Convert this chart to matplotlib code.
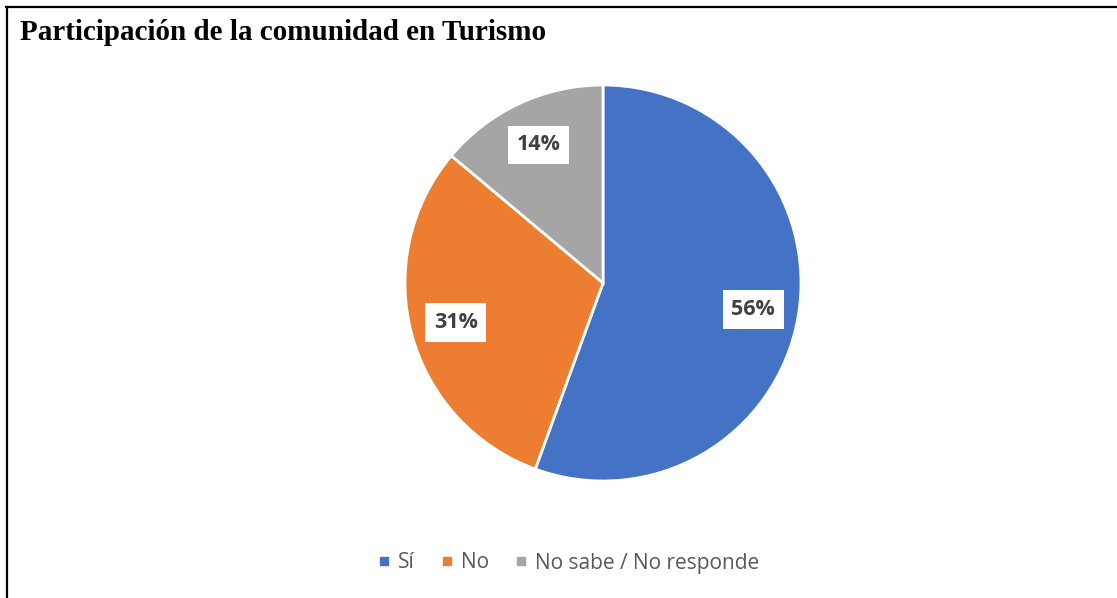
import matplotlib.pyplot as plt
from matplotlib.lines import Line2D

categorias = ["Sí", "No", "No sabe / No responde"]
valores = [40, 22, 10]
colores = ["#4472C4", "#ED7D31", "#A5A5A5"]
titulo = "Participación de la comunidad en Turismo"

W, H = 1117, 598
fig = plt.figure(figsize=(W / 100, H / 100), dpi=100)

# borde superior e izquierdo del marco
fig.add_artist(Line2D([6 / W, 1], [1 - 7 / H, 1 - 7 / H], color="black", lw=1.6))
fig.add_artist(Line2D([7 / W, 7 / W], [0, 1 - 7 / H], color="black", lw=1.6))

fig.text(20 / W, 1 - 32 / H, titulo, family="Liberation Serif", fontweight="bold",
         fontsize=21, va="center", ha="left", color="black")

# Crear el gráfico de sectores
cx, cy, r = 603, H - 283, 198
ax = fig.add_axes([(cx - r) / W, (cy - r) / H, 2 * r / W, 2 * r / H])
wedges, textos, pcts = ax.pie(
    valores,
    colors=colores,
    startangle=90,
    counterclock=False,
    autopct="%1.0f%%",
    pctdistance=0.77,
    radius=1,
    wedgeprops=dict(edgecolor="white", linewidth=2),
    textprops=dict(family="Open Sans", fontweight="bold", fontsize=15.5, color="#404040"),
)
for t in pcts:
    t.set_bbox(dict(facecolor="white", edgecolor="none", boxstyle="square,pad=0.4"))
ax.set_xlim(-1, 1)
ax.set_ylim(-1, 1)
ax.set_aspect("equal")
ax.axis("off")

handles = [Line2D([], [], marker="s", linestyle="none", color=c, markersize=5.5) for c in colores]
fig.legend(handles, categorias, loc="center", bbox_to_anchor=(569 / W, 1 - 563 / H), ncol=3,
           frameon=False, handlelength=0.5, handletextpad=0.4, columnspacing=1.3,
           prop=dict(family="Open Sans", size=15), labelcolor="#595959")

fig.savefig("out.png", dpi=100)
